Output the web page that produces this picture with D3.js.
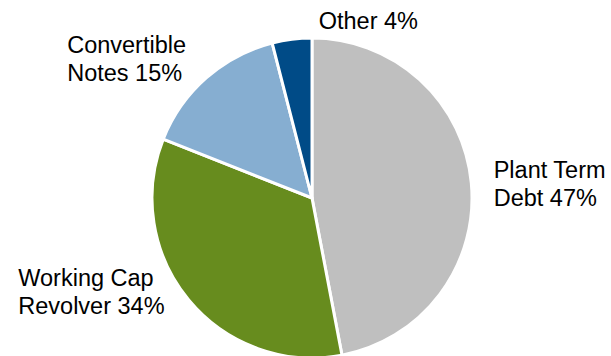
<!DOCTYPE html>
<html>
<head>
<meta charset="utf-8">
<script src="https://cdn.jsdelivr.net/npm/d3@7/dist/d3.min.js"></script>
<style>
  html, body { margin: 0; padding: 0; background: #fff; }
  svg { display: block; }
  text { font-family: "Liberation Sans", Arial, sans-serif; fill: #000; }
</style>
</head>
<body>
<svg id="chart" width="611" height="356"></svg>
<script>
// Debt mix, percent of total
const categories = ["Plant Term Debt", "Working Cap Revolver", "Convertible Notes", "Other"];
const labelLines = [["Plant Term", "Debt 47%"], ["Working Cap", "Revolver 34%"], ["Convertible", "Notes 15%"], ["Other 4%"]];
const shares = [47, 34, 15, 4];
const colors = ["#BFBFBF", "#678C1E", "#86AED1", "#004B87"];

const width = 611, height = 356;
const cx = 312, cy = 198, radius = 160;
const fontSize = 23.5, lineHeight = 28;

// label placement: offset of the text block (left edge, first baseline)
// from a point just outside the slice, along its middle angle
const labelRadius = radius + 22;
const labelNudge = [[0.5, -3], [-153.5, -28], [-124.5, -8], [29.5, 12]];

const svg = d3.select("#chart");
const g = svg.append("g").attr("transform", `translate(${cx},${cy})`);

const pie = d3.pie().sort(null).value(d => d.value);
const arcs = pie(categories.map((c, i) => ({ name: c, value: shares[i], i })));

const arc = d3.arc().innerRadius(0).outerRadius(radius);
const outer = d3.arc().innerRadius(labelRadius).outerRadius(labelRadius);

g.selectAll("path.slice")
  .data(arcs)
  .join("path")
  .attr("class", "slice")
  .attr("d", arc)
  .attr("fill", d => colors[d.data.i])
  .attr("stroke", "#fff")
  .attr("stroke-width", 3)
  .attr("stroke-linejoin", "miter");

g.selectAll("text.label")
  .data(arcs)
  .join("text")
  .attr("class", "label")
  .attr("font-size", fontSize)
  .each(function (d) {
    const [px, py] = outer.centroid(d);
    const [dx, dy] = labelNudge[d.data.i];
    const t = d3.select(this);
    labelLines[d.data.i].forEach((line, k) => {
      t.append("tspan")
        .attr("x", px + dx)
        .attr("y", py + dy + k * lineHeight)
        .text(line);
    });
  });
</script>
</body>
</html>
